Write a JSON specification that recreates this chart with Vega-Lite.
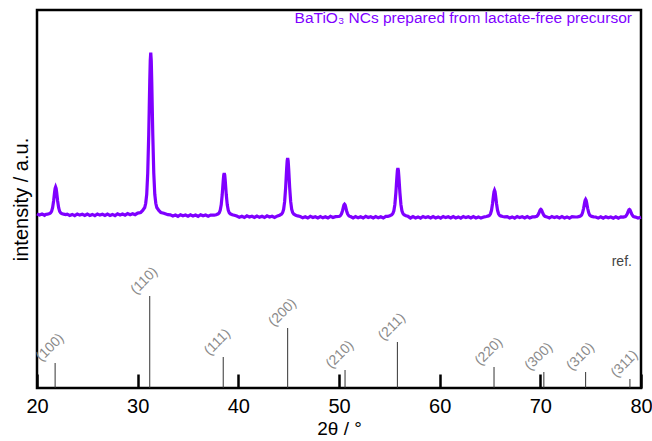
{
  "$schema": "https://vega.github.io/schema/vega-lite/v6.json",
  "width": 604,
  "height": 378,
  "autosize": "none",
  "padding": {"left": 37, "top": 10, "right": 11, "bottom": 53},
  "background": "white",
  "config": {
    "font": "Liberation Sans",
    "view": {"stroke": "black", "strokeWidth": 2.5},
    "axis": {"grid": false}
  },
  "datasets": {
    "pattern": [
      {"t":20.0,"i":174.2},{"t":20.25,"i":172.9},{"t":20.5,"i":173.9},{"t":20.75,"i":172.7},
      {"t":20.85,"i":173.5},{"t":21.05,"i":173.8},{"t":21.25,"i":174.4},{"t":21.35,"i":175.1},{"t":21.45,"i":176.6},{"t":21.55,"i":180.3},{"t":21.65,"i":187.0},{"t":21.7,"i":191.5},{"t":21.75,"i":196.0},{"t":21.8,"i":199.6},{"t":21.85,"i":201.0},{"t":21.9,"i":199.6},{"t":21.95,"i":196.0},{"t":22.0,"i":191.5},{"t":22.05,"i":187.0},{"t":22.15,"i":180.3},{"t":22.25,"i":176.6},{"t":22.35,"i":175.1},{"t":22.45,"i":174.4},{"t":22.65,"i":173.8},{"t":22.85,"i":173.5},
      {"t":23.0,"i":173.9},{"t":23.25,"i":172.6},{"t":23.5,"i":173.6},{"t":23.75,"i":172.4},{"t":24.0,"i":174.0},{"t":24.25,"i":172.9},{"t":24.5,"i":173.7},{"t":24.75,"i":172.5},{"t":25.0,"i":173.9},{"t":25.25,"i":172.6},{"t":25.5,"i":173.6},{"t":25.75,"i":172.4},{"t":26.0,"i":174.0},{"t":26.25,"i":172.9},{"t":26.5,"i":173.7},{"t":26.75,"i":172.5},{"t":27.0,"i":173.9},{"t":27.25,"i":172.6},{"t":27.5,"i":173.6},{"t":27.75,"i":172.4},{"t":28.0,"i":174.1},{"t":28.25,"i":173.0},{"t":28.5,"i":174.0},{"t":28.75,"i":172.9},{"t":29.0,"i":174.4},{"t":29.25,"i":173.3},{"t":29.5,"i":174.3},{"t":29.75,"i":173.3},{"t":30.0,"i":174.9},
      {"t":30.3,"i":175.5},{"t":30.5,"i":177.5},{"t":30.7,"i":180.5},{"t":30.8,"i":184.7},{"t":30.9,"i":193.7},{"t":31.0,"i":214.9},{"t":31.1,"i":254.0},{"t":31.15,"i":280.0},{"t":31.2,"i":306.2},{"t":31.25,"i":327.4},{"t":31.3,"i":335.5},{"t":31.35,"i":327.4},{"t":31.4,"i":306.2},{"t":31.45,"i":280.0},{"t":31.5,"i":254.0},{"t":31.6,"i":214.9},{"t":31.7,"i":193.7},{"t":31.8,"i":184.7},{"t":31.9,"i":180.5},{"t":32.1,"i":177.5},{"t":32.3,"i":175.5},{"t":32.6,"i":174.8},{"t":33.0,"i":173.3},
      {"t":33.25,"i":173.2},{"t":33.5,"i":171.9},{"t":33.75,"i":172.9},{"t":34.0,"i":171.7},{"t":34.25,"i":173.3},{"t":34.5,"i":172.2},{"t":34.75,"i":173.0},{"t":35.0,"i":171.8},{"t":35.25,"i":173.2},{"t":35.5,"i":171.9},{"t":35.75,"i":172.9},{"t":36.0,"i":171.7},{"t":36.25,"i":173.3},{"t":36.5,"i":172.2},{"t":36.75,"i":173.0},{"t":37.0,"i":171.8},{"t":37.25,"i":173.0},
      {"t":37.6,"i":172.8},{"t":37.8,"i":173.3},{"t":38.0,"i":174.2},{"t":38.1,"i":175.2},{"t":38.2,"i":177.6},{"t":38.3,"i":183.2},{"t":38.4,"i":193.5},{"t":38.45,"i":200.4},{"t":38.5,"i":207.3},{"t":38.55,"i":212.9},{"t":38.6,"i":215.0},{"t":38.65,"i":212.9},{"t":38.7,"i":207.3},{"t":38.75,"i":200.4},{"t":38.8,"i":193.5},{"t":38.9,"i":183.2},{"t":39.0,"i":177.6},{"t":39.1,"i":175.2},{"t":39.2,"i":174.2},{"t":39.4,"i":173.3},{"t":39.6,"i":172.8},
      {"t":39.85,"i":172.0},{"t":40.1,"i":170.7},{"t":40.35,"i":171.7},{"t":40.6,"i":170.5},{"t":40.85,"i":172.1},{"t":41.1,"i":171.0},{"t":41.35,"i":171.8},{"t":41.6,"i":170.6},{"t":41.85,"i":172.0},{"t":42.1,"i":170.7},{"t":42.35,"i":171.7},{"t":42.6,"i":170.5},{"t":42.85,"i":172.1},{"t":43.1,"i":171.0},{"t":43.35,"i":171.8},{"t":43.6,"i":170.6},
      {"t":43.9,"i":172.1},{"t":44.1,"i":172.8},{"t":44.3,"i":174.0},{"t":44.4,"i":175.4},{"t":44.5,"i":178.7},{"t":44.6,"i":186.3},{"t":44.7,"i":200.5},{"t":44.75,"i":209.9},{"t":44.8,"i":219.4},{"t":44.85,"i":227.0},{"t":44.9,"i":230.0},{"t":44.95,"i":227.0},{"t":45.0,"i":219.4},{"t":45.05,"i":209.9},{"t":45.1,"i":200.5},{"t":45.2,"i":186.3},{"t":45.3,"i":178.7},{"t":45.4,"i":175.4},{"t":45.5,"i":174.0},{"t":45.7,"i":172.8},{"t":45.9,"i":172.1},
      {"t":46.15,"i":171.5},{"t":46.4,"i":170.2},{"t":46.65,"i":171.2},{"t":46.9,"i":170.0},{"t":47.15,"i":171.6},{"t":47.4,"i":170.5},{"t":47.65,"i":171.3},{"t":47.9,"i":170.1},{"t":48.15,"i":171.5},{"t":48.4,"i":170.2},{"t":48.65,"i":171.2},{"t":48.9,"i":170.0},{"t":49.15,"i":171.6},{"t":49.4,"i":170.5},{"t":49.65,"i":171.3},
      {"t":49.95,"i":171.5},{"t":50.05,"i":171.8},{"t":50.15,"i":172.5},{"t":50.25,"i":174.2},{"t":50.35,"i":177.3},{"t":50.4,"i":179.4},{"t":50.45,"i":181.5},{"t":50.5,"i":183.2},{"t":50.55,"i":183.8},{"t":50.6,"i":183.2},{"t":50.65,"i":181.5},{"t":50.7,"i":179.4},{"t":50.75,"i":177.3},{"t":50.85,"i":174.2},{"t":50.95,"i":172.5},{"t":51.05,"i":171.8},{"t":51.15,"i":171.5},
      {"t":51.4,"i":170.1},{"t":51.65,"i":171.5},{"t":51.9,"i":170.2},{"t":52.15,"i":171.2},{"t":52.4,"i":170.0},{"t":52.65,"i":171.6},{"t":52.9,"i":170.5},{"t":53.15,"i":171.3},{"t":53.4,"i":170.1},{"t":53.65,"i":171.5},{"t":53.9,"i":170.2},{"t":54.15,"i":171.2},{"t":54.4,"i":170.0},{"t":54.65,"i":171.6},
      {"t":54.85,"i":171.7},{"t":55.05,"i":172.3},{"t":55.25,"i":173.3},{"t":55.35,"i":174.5},{"t":55.45,"i":177.2},{"t":55.55,"i":183.5},{"t":55.65,"i":195.3},{"t":55.7,"i":203.1},{"t":55.75,"i":211.0},{"t":55.8,"i":217.4},{"t":55.85,"i":219.8},{"t":55.9,"i":217.4},{"t":55.95,"i":211.0},{"t":56.0,"i":203.1},{"t":56.05,"i":195.3},{"t":56.15,"i":183.5},{"t":56.25,"i":177.2},{"t":56.35,"i":174.5},{"t":56.45,"i":173.3},{"t":56.65,"i":172.3},{"t":56.85,"i":171.7},
      {"t":57.1,"i":170.0},{"t":57.35,"i":171.4},{"t":57.6,"i":170.1},{"t":57.85,"i":171.1},{"t":58.1,"i":169.9},{"t":58.35,"i":171.5},{"t":58.6,"i":170.4},{"t":58.85,"i":171.2},{"t":59.1,"i":170.0},{"t":59.35,"i":171.4},{"t":59.6,"i":170.1},{"t":59.85,"i":171.1},{"t":60.1,"i":169.9},{"t":60.35,"i":171.5},{"t":60.6,"i":170.4},{"t":60.85,"i":171.2},{"t":61.1,"i":170.0},{"t":61.35,"i":171.4},{"t":61.6,"i":170.1},{"t":61.85,"i":171.1},{"t":62.1,"i":169.9},{"t":62.35,"i":171.5},{"t":62.6,"i":170.4},{"t":62.85,"i":171.2},{"t":63.1,"i":170.0},{"t":63.35,"i":171.4},{"t":63.6,"i":170.1},{"t":63.85,"i":171.1},{"t":64.1,"i":169.9},
      {"t":64.45,"i":171.2},{"t":64.65,"i":171.5},{"t":64.85,"i":172.1},{"t":64.95,"i":172.7},{"t":65.05,"i":174.2},{"t":65.15,"i":177.7},{"t":65.25,"i":184.2},{"t":65.3,"i":188.5},{"t":65.35,"i":192.8},{"t":65.4,"i":196.4},{"t":65.45,"i":197.7},{"t":65.5,"i":196.4},{"t":65.55,"i":192.8},{"t":65.6,"i":188.5},{"t":65.65,"i":184.2},{"t":65.75,"i":177.7},{"t":65.85,"i":174.2},{"t":65.95,"i":172.7},{"t":66.05,"i":172.1},{"t":66.25,"i":171.5},{"t":66.45,"i":171.2},
      {"t":66.7,"i":171.4},{"t":66.95,"i":170.1},{"t":67.2,"i":171.1},{"t":67.45,"i":169.9},{"t":67.7,"i":171.5},{"t":67.95,"i":170.4},{"t":68.2,"i":171.2},{"t":68.45,"i":170.0},{"t":68.7,"i":171.4},{"t":68.95,"i":170.1},{"t":69.2,"i":171.1},
      {"t":69.45,"i":171.1},{"t":69.65,"i":171.7},{"t":69.75,"i":172.8},{"t":69.85,"i":174.7},{"t":69.9,"i":176.0},{"t":69.95,"i":177.3},{"t":70.0,"i":178.3},{"t":70.05,"i":178.7},{"t":70.1,"i":178.3},{"t":70.15,"i":177.3},{"t":70.2,"i":176.0},{"t":70.25,"i":174.7},{"t":70.35,"i":172.8},{"t":70.45,"i":171.7},{"t":70.65,"i":171.1},
      {"t":70.9,"i":170.0},{"t":71.15,"i":171.5},{"t":71.4,"i":170.4},{"t":71.65,"i":171.2},{"t":71.9,"i":170.0},{"t":72.15,"i":171.4},{"t":72.4,"i":170.1},{"t":72.65,"i":171.1},{"t":72.9,"i":169.9},{"t":73.15,"i":171.3},
      {"t":73.5,"i":171.0},{"t":73.7,"i":171.2},{"t":73.9,"i":171.6},{"t":74.0,"i":172.1},{"t":74.1,"i":173.0},{"t":74.2,"i":175.4},{"t":74.3,"i":179.7},{"t":74.35,"i":182.6},{"t":74.4,"i":185.5},{"t":74.45,"i":187.8},{"t":74.5,"i":188.7},{"t":74.55,"i":187.8},{"t":74.6,"i":185.5},{"t":74.65,"i":182.6},{"t":74.7,"i":179.7},{"t":74.8,"i":175.4},{"t":74.9,"i":173.0},{"t":75.0,"i":172.1},{"t":75.1,"i":171.6},{"t":75.3,"i":171.2},{"t":75.5,"i":171.0},
      {"t":75.75,"i":169.9},{"t":76.0,"i":171.2},{"t":76.25,"i":169.8},{"t":76.5,"i":171.3},{"t":76.75,"i":170.2},{"t":77.0,"i":171.0},{"t":77.25,"i":169.8},{"t":77.5,"i":171.2},{"t":77.75,"i":169.9},{"t":78.0,"i":171.1},
      {"t":78.25,"i":170.9},{"t":78.45,"i":171.5},{"t":78.55,"i":172.6},{"t":78.65,"i":174.5},{"t":78.7,"i":175.8},{"t":78.75,"i":177.1},{"t":78.8,"i":178.1},{"t":78.85,"i":178.5},{"t":78.9,"i":178.1},{"t":78.95,"i":177.1},{"t":79.0,"i":175.8},{"t":79.05,"i":174.5},{"t":79.15,"i":172.6},{"t":79.25,"i":171.5},{"t":79.45,"i":170.9},{"t":79.7,"i":170.0},{"t":80.0,"i":170.8}
    ],
    "sticks": [
      {"t":21.8,"h":25,"hkl":"(100)"},
      {"t":31.2,"h":92,"hkl":"(110)"},
      {"t":38.5,"h":31,"hkl":"(111)"},
      {"t":44.9,"h":60,"hkl":"(200)"},
      {"t":50.6,"h":18,"hkl":"(210)"},
      {"t":55.8,"h":46,"hkl":"(211)"},
      {"t":65.4,"h":21,"hkl":"(220)"},
      {"t":70.35,"h":16,"hkl":"(300)"},
      {"t":74.5,"h":16,"hkl":"(310)"},
      {"t":78.9,"h":9,"hkl":"(311)"}
    ],
    "notes": [
      {"t":79.1,"i":365,"label":"BaTiO₃ NCs prepared from lactate-free precursor","kind":"sample"},
      {"t":79.1,"i":122,"label":"ref.","kind":"ref"}
    ]
  },
  "layer": [
    {
      "data": {"name": "pattern"},
      "mark": {"type": "line", "color": "#7f00ff", "strokeWidth": 3.2},
      "encoding": {
        "x": {
          "field": "t", "type": "quantitative",
          "scale": {"domain": [20, 80], "nice": false, "zero": false},
          "axis": {
            "title": "2θ / °", "titleFontSize": 19, "titleFontWeight": "normal", "titleColor": "black", "titlePadding": 3,
            "labelFontSize": 20, "labelColor": "black", "labelPadding": 22, "labelFlush": false,
            "values": [20, 30, 40, 50, 60, 70, 80],
            "tickSize": -14, "tickWidth": 2.5, "tickColor": "black",
            "domain": false, "grid": false
          }
        },
        "y": {
          "field": "i", "type": "quantitative",
          "scale": {"domain": [0, 378], "nice": false, "zero": false},
          "axis": {
            "title": "intensity / a.u.", "titleFontSize": 20, "titleFontWeight": "normal", "titleColor": "black", "titlePadding": 6,
            "labels": false, "ticks": false, "domain": false, "grid": false
          }
        }
      }
    },
    {
      "data": {"name": "sticks"},
      "mark": {"type": "rule", "color": "#333333", "strokeWidth": 1},
      "encoding": {
        "x": {"field": "t", "type": "quantitative"},
        "y": {"field": "h", "type": "quantitative"},
        "y2": {"datum": 0}
      }
    },
    {
      "data": {"name": "sticks"},
      "mark": {"type": "text", "angle": -45, "align": "left", "baseline": "middle", "dx": -9, "dy": -14.5, "fontSize": 14, "color": "#8a8a8a"},
      "encoding": {
        "x": {"field": "t", "type": "quantitative"},
        "y": {"field": "h", "type": "quantitative"},
        "text": {"field": "hkl"}
      }
    },
    {
      "data": {"name": "notes"},
      "transform": [{"filter": "datum.kind === 'sample'"}],
      "mark": {"type": "text", "align": "right", "baseline": "alphabetic", "fontSize": 15.5, "color": "#7f00ff"},
      "encoding": {
        "x": {"field": "t", "type": "quantitative"},
        "y": {"field": "i", "type": "quantitative"},
        "text": {"field": "label"}
      }
    },
    {
      "data": {"name": "notes"},
      "transform": [{"filter": "datum.kind === 'ref'"}],
      "mark": {"type": "text", "align": "right", "baseline": "alphabetic", "fontSize": 14, "color": "#444444"},
      "encoding": {
        "x": {"field": "t", "type": "quantitative"},
        "y": {"field": "i", "type": "quantitative"},
        "text": {"field": "label"}
      }
    }
  ]
}
